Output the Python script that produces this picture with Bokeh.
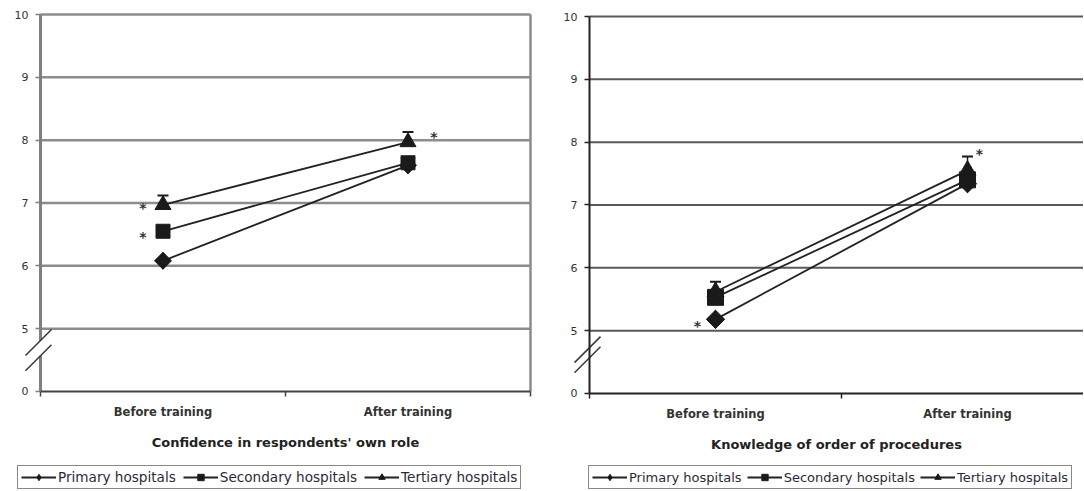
import math
from bokeh.plotting import figure
from bokeh.layouts import row
from bokeh.models import (FixedTicker, Legend, LegendItem, Whisker, TeeHead,
                          ColumnDataSource, Range1d)
from bokeh.core.properties import value
from bokeh.embed import file_html
from bokeh.resources import INLINE

# ---------------- data ----------------
categories = ["Before training", "After training"]
x_pos = [0, 1]
series_names = ["Primary hospitals", "Secondary hospitals", "Tertiary hospitals"]

conf_primary = [6.08, 7.60]
conf_secondary = [6.55, 7.64]
conf_tertiary = [6.97, 7.97]
conf_tertiary_err = [0.15, 0.16]

know_primary = [5.18, 7.34]
know_secondary = [5.53, 7.40]
know_tertiary = [5.62, 7.55]
know_tertiary_err = [0.16, 0.22]

# y axis uses a broken scale: 5..10 as is, "0" shown one unit below 5
y_ticks = [4, 5, 6, 7, 8, 9, 10]
y_tick_labels = ["0", "5", "6", "7", "8", "9", "10"]

conf_title = "Confidence in respondents' own role"
know_title = "Knowledge of order of procedures"

# significance asterisks: (series index, time index)
conf_sig = [(2, 0), (1, 0), (2, 1)]
know_sig = [(0, 0), (2, 1)]

# ---------------- drawing ----------------
FONT = "DejaVu Sans"
H = 490


def make_panel(title, vals, terr, sig, sig_offsets, fig_w, axis_px, sx, top_px, sy,
               grid_col, grid_w, yax_col, yax_w, xax_col, right_border, msizes,
               legend_x, legend_font, legend_spacing, slash_y, axis_gap):
    x_start = -0.5 - axis_px / sx
    x_end = x_start + fig_w / sx
    y_end = 10 + top_px / sy
    y_start = y_end - H / sy
    x_last = min(1.5, x_end)

    p = figure(width=fig_w, height=H, x_range=Range1d(x_start, x_end),
               y_range=Range1d(y_start, y_end), output_backend="svg",
               toolbar_location=None, min_border_left=0, min_border_right=0,
               min_border_top=0, min_border_bottom=0)
    p.background_fill_color = "white"
    p.border_fill_color = "white"
    p.outline_line_color = None
    p.xgrid.visible = False
    p.ygrid.visible = False

    # horizontal grid lines (5..10) drawn from the y axis to the plot edge
    gy = y_ticks[1:]
    p.segment(x0=[-0.5] * len(gy), y0=gy, x1=[x_last] * len(gy), y1=gy,
              line_color=grid_col, line_width=grid_w)
    if right_border:
        p.segment(x0=[1.5], y0=[4], x1=[1.5], y1=[10], line_color=grid_col,
                  line_width=grid_w)

    # y axis
    p.yaxis.fixed_location = -0.5
    p.yaxis.bounds = (4, 10)
    p.yaxis.ticker = FixedTicker(ticks=y_ticks)
    p.yaxis.major_label_overrides = {t: l for t, l in zip(y_ticks, y_tick_labels)}
    p.yaxis.axis_line_color = None if axis_gap else yax_col
    p.yaxis.axis_line_width = yax_w
    p.yaxis.major_tick_out = 5
    p.yaxis.major_tick_in = 0
    p.yaxis.major_tick_line_color = yax_col
    p.yaxis.major_tick_line_width = 1.5
    p.yaxis.minor_tick_line_color = None
    p.yaxis.major_label_standoff = 7
    p.yaxis.major_label_text_font = FONT
    p.yaxis.major_label_text_font_size = "11px"
    p.yaxis.major_label_text_color = "#333333"
    if axis_gap:
        p.segment(x0=[-0.5, -0.5], y0=[4, slash_y[1]], x1=[-0.5, -0.5],
                  y1=[slash_y[0], 10], line_color=yax_col, line_width=yax_w)

    # x axis
    p.xaxis.fixed_location = 4
    p.xaxis.bounds = (-0.5, x_last)
    p.xaxis.ticker = FixedTicker(ticks=x_pos, minor_ticks=[-0.5, 0.5, 1.5])
    p.xaxis.major_label_overrides = {t: c for t, c in zip(x_pos, categories)}
    p.xaxis.axis_line_color = xax_col
    p.xaxis.axis_line_width = 2
    p.xaxis.major_tick_out = 0
    p.xaxis.major_tick_in = 0
    p.xaxis.minor_tick_out = 5
    p.xaxis.minor_tick_in = 0
    p.xaxis.minor_tick_line_color = xax_col
    p.xaxis.minor_tick_line_width = 1.5
    p.xaxis.major_label_standoff = 9
    p.xaxis.major_label_text_font = FONT
    p.xaxis.major_label_text_font_style = "bold"
    p.xaxis.major_label_text_font_size = "11.5px"
    p.xaxis.major_label_text_color = "#333333"
    p.xaxis.axis_label = title
    p.xaxis.axis_label_text_font = FONT
    p.xaxis.axis_label_text_font_style = "bold"
    p.xaxis.axis_label_text_font_size = "13px"
    p.xaxis.axis_label_text_color = "#222222"
    p.xaxis.axis_label_standoff = 12

    # axis break marks
    for yc in slash_y:
        p.segment(x0=[-0.5 - 15 / sx], y0=[yc - 15 / sy], x1=[-0.5 + 11 / sx],
                  y1=[yc + 11 / sy], line_color="#333333", line_width=1.5)

    # series
    items = []
    for i, name in enumerate(series_names):
        lr = p.line(x_pos, vals[i], line_color="#222222", line_width=1.8)
        if i == 0:
            # diamond: legend glyph + a rotated square for the wider plotted shape
            leg_r = p.scatter(x_pos, vals[i], marker="diamond", size=msizes[i] * 1.4,
                              fill_color="#1a1a1a", line_color="#1a1a1a")
            p.scatter(x_pos, vals[i], marker="square", angle=math.pi / 4,
                      size=msizes[i], fill_color="#1a1a1a", line_color="#1a1a1a")
        else:
            leg_r = p.scatter(x_pos, vals[i], marker="square" if i == 1 else "triangle",
                              size=msizes[i], fill_color="#1a1a1a", line_color="#1a1a1a")
        items.append(LegendItem(label=name, renderers=[lr, leg_r]))

    # error bars (tertiary, upper)
    src = ColumnDataSource(dict(x=x_pos, lower=vals[2],
                                upper=[v + e for v, e in zip(vals[2], terr)]))
    p.add_layout(Whisker(source=src, base="x", lower="lower", upper="upper",
                         dimension="height", line_color="#1a1a1a", line_width=1.5,
                         upper_head=TeeHead(size=11, line_color="#1a1a1a", line_width=2),
                         lower_head=None))

    # significance asterisks
    axs, ays = [], []
    for (si, ti), (dx, dy) in zip(sig, sig_offsets):
        axs.append(x_pos[ti] + dx / sx)
        ays.append(vals[si][ti] - dy / sy)
    p.text(x=axs, y=ays, text=["*"] * len(axs), text_font=value(FONT),
           text_font_style="bold", text_font_size="14px", text_align="center",
           text_baseline="middle", text_color="#333333")

    legend = Legend(items=items, orientation="horizontal", location=(legend_x, 1),
                    label_text_font=FONT, label_text_font_size=legend_font,
                    label_text_color="#2a2a3a", glyph_width=35, glyph_height=16,
                    label_standoff=2, spacing=legend_spacing, padding=3, margin=0,
                    border_line_color="#111111", border_line_width=1.5,
                    background_fill_color="white", background_fill_alpha=1.0,
                    label_height=16)
    p.add_layout(legend)
    return p


p1 = make_panel(conf_title, [conf_primary, conf_secondary, conf_tertiary],
                conf_tertiary_err, conf_sig, [(-20, 3), (-20, 6), (26, -5)],
                fig_w=545, axis_px=40, sx=245, top_px=14, sy=62.83,
                grid_col="#8c8c8c", grid_w=2.5, yax_col="#7f7f7f", yax_w=3,
                xax_col="#444444", right_border=True, msizes=[12, 14, 16],
                legend_x=17, legend_font="13.6px", legend_spacing=7,
                slash_y=[4.57, 4.81], axis_gap=True)

p2 = make_panel(know_title, [know_primary, know_secondary, know_tertiary],
                know_tertiary_err, know_sig, [(-18, 7), (12, -16)],
                fig_w=538, axis_px=44, sx=252, top_px=16, sy=62.83,
                grid_col="#5a5a5a", grid_w=2, yax_col="#222222", yax_w=2,
                xax_col="#222222", right_border=False, msizes=[13, 16, 17],
                legend_x=43, legend_font="13px", legend_spacing=5,
                slash_y=[4.57, 4.73], axis_gap=False)

layout = row(p1, p2)
open("out.html", "w").write(file_html(layout, INLINE))
